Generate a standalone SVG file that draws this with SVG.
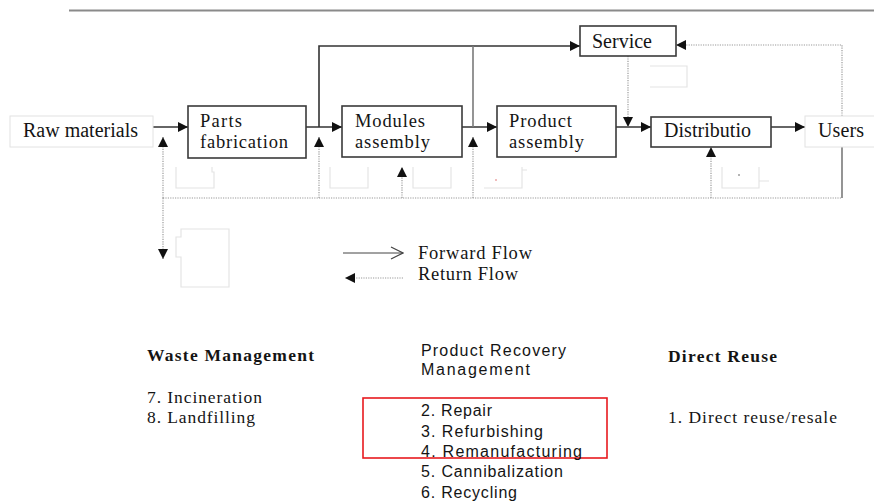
<svg xmlns="http://www.w3.org/2000/svg" width="874" height="502" viewBox="0 0 874 502">
<style>
.box{fill:#fff;stroke:#3a3a3a;stroke-width:1.6}
.fbox{fill:#fff;stroke:#e2e2e2;stroke-width:1}
.t{font-family:"Liberation Serif","Times New Roman",serif;font-size:20px;fill:#141414}
.t2{font-family:"Liberation Serif","Times New Roman",serif;font-size:18.5px;fill:#141414}
.lt{font-family:"Liberation Serif","Times New Roman",serif;font-size:18.5px;fill:#141414}
.bt{font-family:"Liberation Serif","Times New Roman",serif;font-size:17.5px;fill:#141414}
.bb{font-family:"Liberation Serif","Times New Roman",serif;font-size:17.5px;font-weight:bold;fill:#141414}
.st{font-family:"Liberation Sans",Arial,sans-serif;font-size:16px;fill:#141414}
.fw{fill:none;stroke:#333;stroke-width:1.6}
.rt{fill:none;stroke:#9a9a9a;stroke-width:1.2;stroke-dasharray:1.2 1.2}
.ghost{fill:none;stroke:#e4e4e4;stroke-width:1.2}
</style>
<defs>
<marker id="ah" viewBox="0 0 10 10" refX="10" refY="5" markerWidth="10" markerHeight="10" markerUnits="userSpaceOnUse" orient="auto">
<path d="M0,0 L10,5 L0,10 z" fill="#111"/>
</marker>
<marker id="oh" viewBox="0 0 14 14" refX="13" refY="7" markerWidth="14" markerHeight="14" markerUnits="userSpaceOnUse" orient="auto">
<path d="M1,1 L13,7 L1,13" fill="none" stroke="#444" stroke-width="1.2"/>
</marker>
</defs>
<rect width="874" height="502" fill="#fff"/>
<line x1="69" y1="10.5" x2="874" y2="10.5" stroke="#8a8a8a" stroke-width="2"/>

<!-- ghost shapes -->
<g id="ghosts">
<path class="ghost" d="M176,167 V188 H214 V172 H212 V167"/>
<path class="ghost" d="M330,167 V188 H368 V167"/>
<path class="ghost" d="M413,167 V188 H451 V167"/>
<path class="ghost" d="M484,188 H522 V170 H527 M522,167 V170"/>
<path class="ghost" d="M650,66 H687 V87 H650"/>
<path class="ghost" d="M722,167 V188 H759 V181 H769 M759,167 V181"/>
<path class="ghost" d="M181,229 H229 V287 H181 V257 H176 V237 H181 Z"/>
<circle cx="496" cy="180" r="0.8" fill="#d66"/>
<circle cx="739" cy="175" r="0.8" fill="#555"/>
</g>

<g id="connectors">
<line class="fw" x1="152" y1="127" x2="188" y2="127" marker-end="url(#ah)"/>
<line class="fw" x1="306" y1="127" x2="342" y2="127" marker-end="url(#ah)"/>
<line class="fw" x1="462" y1="127" x2="497" y2="127" marker-end="url(#ah)"/>
<line class="fw" x1="616" y1="127" x2="651" y2="127" marker-end="url(#ah)"/>
<line class="fw" x1="771" y1="127" x2="805" y2="127" marker-end="url(#ah)"/>
<path class="fw" d="M319,127 V46 H580" marker-end="url(#ah)"/>
<line x1="473" y1="46" x2="473" y2="127" stroke="#7a7a7a" stroke-width="1.6"/>
<line x1="842" y1="147" x2="842" y2="198" stroke="#7a7a7a" stroke-width="1.6"/>
<!-- return flows -->
<path class="rt" d="M628,56 V127" marker-end="url(#ah)"/>
<path class="rt" d="M842,116 V45 H676" marker-end="url(#ah)"/>
<line class="rt" x1="163" y1="198" x2="842" y2="198"/>
<line class="rt" x1="163" y1="198" x2="163" y2="137" marker-end="url(#ah)"/>
<line class="rt" x1="163" y1="198" x2="163" y2="259" marker-end="url(#ah)"/>
<line class="rt" x1="319" y1="198" x2="319" y2="137" marker-end="url(#ah)"/>
<line class="rt" x1="402" y1="198" x2="402" y2="167" marker-end="url(#ah)"/>
<line class="rt" x1="473" y1="198" x2="473" y2="137" marker-end="url(#ah)"/>
<line class="rt" x1="711" y1="198" x2="711" y2="147" marker-end="url(#ah)"/>
</g>

<g id="raw"><rect class="fbox" x="10" y="116" width="143" height="31"/><text class="t" x="23" y="137" textLength="115" lengthAdjust="spacing">Raw materials</text></g>
<g id="parts"><rect class="box" x="188" y="106" width="118" height="52"/><text class="t2" x="200" y="127" textLength="42" lengthAdjust="spacing">Parts</text><text class="t2" x="200" y="148" textLength="88" lengthAdjust="spacing">fabrication</text></g>
<g id="modules"><rect class="box" x="342" y="106" width="120" height="51"/><text class="t2" x="355" y="127" textLength="70" lengthAdjust="spacing">Modules</text><text class="t2" x="355" y="148" textLength="75" lengthAdjust="spacing">assembly</text></g>
<g id="product"><rect class="box" x="497" y="106" width="119" height="51"/><text class="t2" x="509" y="127" textLength="63" lengthAdjust="spacing">Product</text><text class="t2" x="509" y="148" textLength="75" lengthAdjust="spacing">assembly</text></g>
<g id="service"><rect class="box" x="580" y="26" width="96" height="30"/><text class="t" x="592" y="48" textLength="60" lengthAdjust="spacing">Service</text></g>
<g id="distribution"><rect class="box" x="651" y="117" width="120" height="30"/><text class="t" x="664" y="137" textLength="87" lengthAdjust="spacing">Distributio</text></g>
<g id="users"><rect class="fbox" x="805" y="116" width="75" height="31"/><text class="t" x="818" y="137" textLength="46" lengthAdjust="spacing">Users</text></g>

<g id="legend">
<line x1="343" y1="253" x2="403" y2="253" stroke="#444" stroke-width="1" marker-end="url(#oh)"/>
<text class="lt" x="418" y="259" textLength="114" lengthAdjust="spacing">Forward Flow</text>
<line class="rt" x1="403" y1="278" x2="345" y2="278" marker-end="url(#ah)"/>
<text class="lt" x="418" y="280" textLength="100" lengthAdjust="spacing">Return Flow</text>
</g>

<g id="waste">
<text class="bb" x="147" y="361" textLength="167" lengthAdjust="spacing">Waste Management</text>
<text class="bt" x="147" y="403" textLength="115" lengthAdjust="spacing">7. Incineration</text>
<text class="bt" x="147" y="423" textLength="108" lengthAdjust="spacing">8. Landfilling</text>
</g>
<g id="recovery">
<text class="st" x="421" y="356" textLength="145" lengthAdjust="spacing">Product Recovery</text>
<text class="st" x="421" y="375" textLength="109" lengthAdjust="spacing">Management</text>
<rect x="363" y="398" width="244" height="60" fill="none" stroke="#e8191e" stroke-width="1.6"/>
<text class="st" x="421" y="416" textLength="71" lengthAdjust="spacing">2. Repair</text>
<text class="st" x="421" y="437" textLength="122" lengthAdjust="spacing">3. Refurbishing</text>
<text class="st" x="421" y="457" textLength="161" lengthAdjust="spacing">4. Remanufacturing</text>
<text class="st" x="421" y="477" textLength="142" lengthAdjust="spacing">5. Cannibalization</text>
<text class="st" x="421" y="498" textLength="96" lengthAdjust="spacing">6. Recycling</text>
</g>
<g id="reuse">
<text class="bb" x="668" y="362" textLength="109" lengthAdjust="spacing">Direct Reuse</text>
<text class="bt" x="668" y="423" textLength="169" lengthAdjust="spacing">1. Direct reuse/resale</text>
</g>
</svg>
